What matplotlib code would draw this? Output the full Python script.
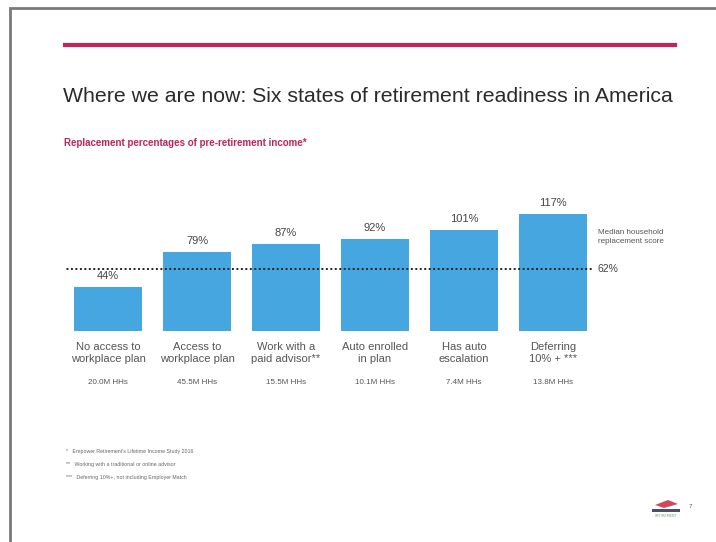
import numpy as np
import matplotlib.pyplot as plt
from matplotlib.patches import Rectangle, Polygon

# replacement percentages by state of readiness
categories = ['No access to\nworkplace plan', 'Access to\nworkplace plan', 'Work with a\npaid advisor**',
              'Auto enrolled\nin plan', 'Has auto\nescalation', 'Deferring\n10% + ***']
values = [44, 79, 87, 92, 101, 117]
households = ['20.0M HHs', '45.5M HHs', '15.5M HHs', '10.1M HHs', '7.4M HHs', '13.8M HHs']
median_score = 62

footnotes = ['*   Empower Retirement\'s Lifetime Income Study 2016',
             '**   Working with a traditional or online advisor',
             '***   Deferring 10%+, not including Employer Match']

W, H = 716, 542
narrow = ['Liberation Sans', 'DejaVu Sans']
bar_color = '#46a6e0'
raspberry = '#c0245c'


def px(x, y):
    # pixel position (from top-left) to figure fraction
    return x / W, 1 - y / H


fig = plt.figure(figsize=(W / 100, H / 100), dpi=100)
fig.patch.set_facecolor('white')

# slide frame
fig.add_artist(Rectangle(px(10, 560), 800 / W, 552 / H, transform=fig.transFigure,
                         fill=False, edgecolor='#7a7a7a', linewidth=2))

# rule across the top
fig.add_artist(plt.Line2D([65 / W, 675 / W], [1 - 45 / H] * 2, transform=fig.transFigure,
                          color=raspberry, linewidth=3))

fig.text(*px(63, 97), 'Where we are now: Six states of retirement readiness in America',
         family=narrow, fontsize=15.3, color='#2b2b2b', va='center', ha='left')
fig.text(*px(64, 143), 'Replacement percentages of pre-retirement income*',
         family=narrow, fontsize=7.0, fontweight='bold', color=raspberry, va='center', ha='left')

# bar chart, 1px per percentage point
ax = fig.add_axes([63.5 / W, (H - 331) / H, 534 / W, 130 / H])
x = np.arange(len(values))
ax.bar(x, values, width=0.76, color=bar_color, zorder=2)
ax.set_xlim(-0.5, 5.5)
ax.set_ylim(0, 130)
ax.axis('off')
ax.axhline(median_score, xmin=-0.003, xmax=0.99, color='#222222', linestyle=(0, (1, 1.3)),
           linewidth=1.4, zorder=3)

for xi, v in zip(x, values):
    ax.annotate(f'{v}%', (xi, v), xytext=(0, 6), textcoords='offset pixels', ha='center',
                va='bottom', family=narrow, fontsize=8, color='#444444')

for xi, cat, hh in zip(x, categories, households):
    ax.annotate(cat, (xi, 0), xytext=(0, -11), textcoords='offset pixels', ha='center', va='top',
                family=narrow, fontsize=8, color='#555555', linespacing=1.3)
    ax.annotate(hh, (xi, 0), xytext=(0, -52), textcoords='offset pixels', ha='center', va='center',
                family=narrow, fontsize=5.8, color='#555555')

ax.annotate(f'{median_score}%', (1, median_score), xycoords=('axes fraction', 'data'),
            xytext=(0, 0), textcoords='offset pixels', ha='left', va='center',
            family=narrow, fontsize=7.5, color='#444444')
fig.text(*px(598, 237), 'Median household\nreplacement score', family=narrow, fontsize=5.8,
         color='#555555', va='center', ha='left', linespacing=1.3)

for i, note in enumerate(footnotes):
    fig.text(*px(66, 451 + 13.5 * i), note, family=narrow, fontsize=3.8, color='#666666',
             va='center', ha='left')

# small logo and page number
fig.add_artist(Polygon([px(655, 505), px(668, 500), px(678, 504), px(664, 508)],
                       transform=fig.transFigure, closed=True, facecolor='#d24a5a', edgecolor='none'))
fig.add_artist(Rectangle(px(652, 512), 28 / W, 3 / H, transform=fig.transFigure,
                         facecolor='#4a4f66', edgecolor='none'))
fig.text(*px(666, 516), 'RETIREMENT', fontsize=2.5, color='#6aa86a', ha='center', va='center')
fig.text(*px(690, 507), '7', family=narrow, fontsize=4.5, color='#555555', ha='center', va='center')

fig.savefig('out.png', dpi=100)
